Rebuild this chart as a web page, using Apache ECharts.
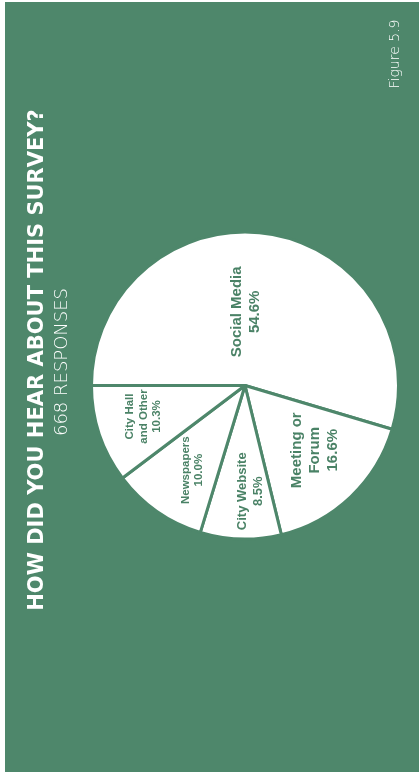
<!DOCTYPE html>
<html>
<head>
<meta charset="utf-8">
<title>How did you hear about this survey?</title>
<script src="https://cdn.jsdelivr.net/npm/echarts@6/dist/echarts.min.js"></script>
<style>
  html, body { margin: 0; padding: 0; background: #ffffff; }
  #chart { width: 419px; height: 772px; }
</style>
</head>
<body>
<div id="chart"></div>
<script>
// Survey answers: where respondents heard about the survey
const categories = ['Social Media', 'Meeting or\nForum', 'City Website', 'Newspapers', 'City Hall\nand Other'];
const percents = [54.6, 16.6, 8.5, 10.0, 10.3];
const titleText = 'HOW DID YOU HEAR ABOUT THIS SURVEY?';
const subtitleText = '668 RESPONSES';
const figureText = 'Figure 5.9';

// Styling
const GREEN = '#4E876B';
const LABEL_GREEN = '#4A8266';
const CX = 245, CY = 385.5, R = 153.5;
const labelFont = [
  { size: 15, line: 18 },
  { size: 15, line: 18 },
  { size: 13, line: 16.5 },
  { size: 11.5, line: 13.5 },
  { size: 11.5, line: 13.5 }
];
// label placement inside each slice: share of the radius, and a small turn (degrees)
const labelRadius = [0.48, 0.62, 0.69, 0.65, 0.69];
const labelTurn = [-7.5, -3.6, -4.6, -3, 1.5];

const chart = echarts.init(document.getElementById('chart'), null, { renderer: 'canvas' });

const pieData = categories.map((name, i) => ({
  name: name,
  value: percents[i],
  label: { fontSize: labelFont[i].size, lineHeight: labelFont[i].line }
}));

chart.setOption({
  backgroundColor: '#ffffff',
  animation: false,
  graphic: [
    {
      type: 'rect', left: 5, top: 2, z: -10,
      shape: { width: 414, height: 770 },
      style: { fill: GREEN }
    },
    {
      type: 'text', x: 37.5, y: 360, rotation: Math.PI / 2,
      style: {
        text: titleText, fill: '#ffffff',
        font: 'bold 21px "DejaVu Sans"',
        align: 'center', verticalAlign: 'middle'
      }
    },
    {
      type: 'text', x: 62, y: 362, rotation: Math.PI / 2,
      style: {
        text: subtitleText, fill: '#ffffff',
        font: '200 18px "DejaVu Sans"',
        align: 'center', verticalAlign: 'middle'
      }
    },
    {
      type: 'text', x: 395.5, y: 54, rotation: Math.PI / 2,
      style: {
        text: figureText, fill: '#ffffff',
        font: '200 14px "DejaVu Sans"',
        align: 'center', verticalAlign: 'middle'
      }
    }
  ],
  series: [{
    type: 'pie',
    center: [CX, CY],
    radius: R,
    startAngle: 180,
    clockwise: true,
    avoidLabelOverlap: false,
    itemStyle: { color: '#ffffff', borderColor: GREEN, borderWidth: 3 },
    emphasis: { disabled: true },
    label: {
      position: 'inside',
      rotate: 90,
      color: LABEL_GREEN,
      fontFamily: '"Liberation Sans", Arial, sans-serif',
      fontWeight: 'bold',
      align: 'center',
      formatter: p => p.name + '\n' + p.value.toFixed(1) + '%'
    },
    labelLine: { show: false },
    labelLayout: function (params) {
      const i = params.dataIndex;
      const rect = params.labelRect;
      const lx = rect.x + rect.width / 2;
      const ly = rect.y + rect.height / 2;
      const ang = Math.atan2(ly - CY, lx - CX) + labelTurn[i] * Math.PI / 180;
      const d = labelRadius[i] * R;
      return { x: CX + Math.cos(ang) * d, y: CY + Math.sin(ang) * d };
    },
    data: pieData
  }]
});
</script>
</body>
</html>
